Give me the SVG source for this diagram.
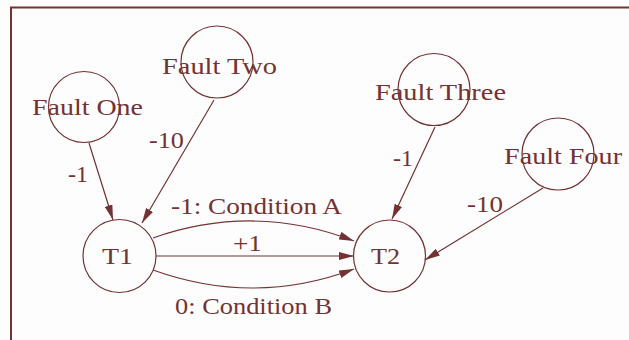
<svg xmlns="http://www.w3.org/2000/svg" width="629" height="340" viewBox="0 0 629 340">
<defs>
<style>
.n{fill:none;stroke:#743232;stroke-width:1.2}
.e{fill:none;stroke:#743232;stroke-width:1.2}
text{font-family:"Liberation Serif","Times New Roman",serif;font-size:23px;fill:#743232}
</style>
<marker id="a" markerUnits="userSpaceOnUse" markerWidth="15" markerHeight="8" refX="15" refY="4" orient="auto">
<path d="M0,0 L15,4 L0,8 Z" fill="#743232"/>
</marker>
</defs>
<rect width="629" height="340" fill="#fdfdfd"/>
<path d="M11,340 V7.5 H629" fill="none" stroke="#743232" stroke-width="2"/>
<g id="connectors">
<line class="e" x1="89" y1="143" x2="113" y2="220" marker-end="url(#a)"/>
<line class="e" x1="214" y1="100" x2="142" y2="223" marker-end="url(#a)"/>
<line class="e" x1="435" y1="127" x2="392" y2="219" marker-end="url(#a)"/>
<line class="e" x1="543" y1="188" x2="425" y2="260" marker-end="url(#a)"/>
<line class="e" x1="156" y1="256" x2="354" y2="256" marker-end="url(#a)"/>
<path class="e" d="M153,238 Q254,202.5 354,241" marker-end="url(#a)"/>
<path class="e" d="M153,270 Q254,306.5 354,269" marker-end="url(#a)"/>
<text x="68" y="182" textLength="20" lengthAdjust="spacingAndGlyphs">-1</text>
<text x="149" y="148" textLength="35" lengthAdjust="spacingAndGlyphs">-10</text>
<text x="393" y="166" textLength="20" lengthAdjust="spacingAndGlyphs">-1</text>
<text x="467" y="212" textLength="36" lengthAdjust="spacingAndGlyphs">-10</text>
<text x="171" y="214" textLength="171" lengthAdjust="spacingAndGlyphs">-1: Condition A</text>
<text x="233" y="251" textLength="29" lengthAdjust="spacingAndGlyphs">+1</text>
<text x="175" y="314" textLength="157" lengthAdjust="spacingAndGlyphs">0: Condition B</text>
</g>
<g id="fault-one">
<circle class="n" cx="84" cy="107" r="35.5"/>
<text x="32" y="115" textLength="111" lengthAdjust="spacingAndGlyphs">Fault One</text>
</g>
<g id="fault-two">
<circle class="n" cx="217" cy="62" r="36"/>
<text x="162" y="74" textLength="115" lengthAdjust="spacingAndGlyphs">Fault Two</text>
</g>
<g id="fault-three">
<circle class="n" cx="434" cy="89.5" r="36"/>
<text x="375" y="100" textLength="131" lengthAdjust="spacingAndGlyphs">Fault Three</text>
</g>
<g id="fault-four">
<circle class="n" cx="558" cy="154" r="36"/>
<text x="504" y="164" textLength="118" lengthAdjust="spacingAndGlyphs">Fault Four</text>
</g>
<g id="t1">
<circle class="n" cx="119.5" cy="256" r="36.5"/>
<text x="102" y="264" textLength="31" lengthAdjust="spacingAndGlyphs">T1</text>
</g>
<g id="t2">
<circle class="n" cx="389.5" cy="256" r="36"/>
<text x="371" y="264" textLength="29" lengthAdjust="spacingAndGlyphs">T2</text>
</g>
</svg>
